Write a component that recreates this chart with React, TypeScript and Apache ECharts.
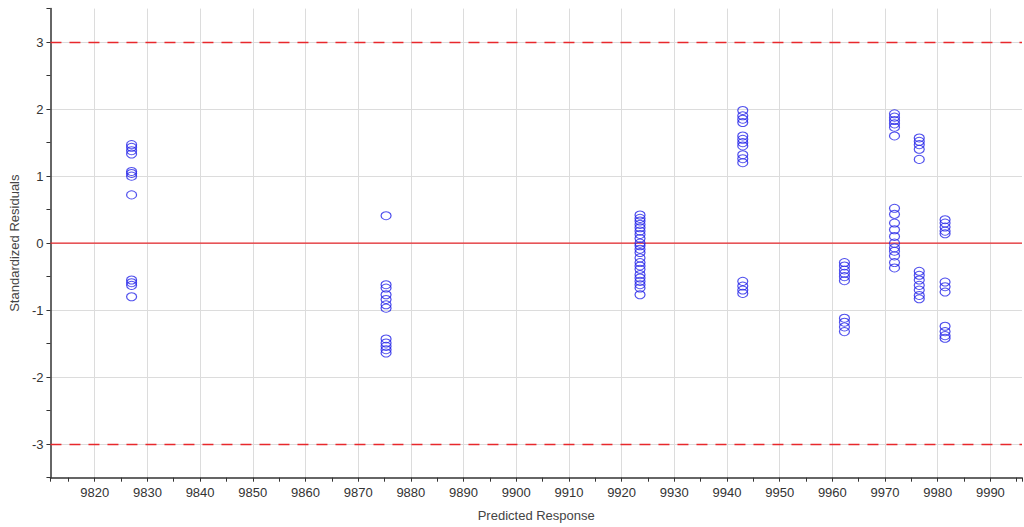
import React, { useEffect, useRef } from "react";
import * as echarts from "echarts";

// Predicted response (x) of each vertical group of runs
const predicted: number[] = [9827.0, 9875.3, 9923.5, 9943.0, 9962.3, 9971.8, 9976.5, 9981.4];

// Standardized residuals of each group
const group1: number[] = [1.47, 1.43, 1.38, 1.33, 1.07, 1.04, 1.0, 0.72, -0.55, -0.59, -0.63, -0.8];
const group2: number[] = [0.41, -0.62, -0.67, -0.77, -0.84, -0.92, -0.97, -1.43, -1.49, -1.54, -1.59, -1.64];
const group3: number[] = [0.42, 0.37, 0.33, 0.28, 0.23, 0.18, 0.13, 0.07, 0.0, -0.04, -0.09, -0.14, -0.22, -0.29, -0.34, -0.39, -0.47, -0.52, -0.57, -0.62, -0.67, -0.77];
const group4: number[] = [1.98, 1.9, 1.85, 1.8, 1.6, 1.55, 1.5, 1.45, 1.32, 1.26, 1.2, -0.57, -0.64, -0.7, -0.75];
const group5: number[] = [-0.29, -0.34, -0.4, -0.45, -0.5, -0.56, -1.12, -1.18, -1.25, -1.32];
const group6: number[] = [1.93, 1.88, 1.83, 1.78, 1.73, 1.6, 0.52, 0.43, 0.3, 0.2, 0.1, 0.0, -0.07, -0.12, -0.19, -0.29, -0.37];
const group7: number[] = [1.57, 1.52, 1.47, 1.4, 1.25, -0.42, -0.48, -0.55, -0.63, -0.7, -0.78, -0.83];
const group8: number[] = [0.35, 0.3, 0.24, 0.18, 0.14, -0.58, -0.65, -0.73, -1.24, -1.32, -1.38, -1.42];

const residualGroups: number[][] = [group1, group2, group3, group4, group5, group6, group7, group8];

// Reference lines
const limitLines: number[] = [3, -3];
const zeroLine = 0;

const X_MIN = 9811.6;
const X_MAX = 9996;

const FONT = "'Liberation Sans', Arial, sans-serif";

export default function App() {
  const ref = useRef<HTMLDivElement>(null);

  useEffect(() => {
    if (!ref.current) return;
    const chart = echarts.init(ref.current, undefined, { renderer: "svg" });

    const points: number[][] = [];
    residualGroups.forEach((g, i) => {
      g.forEach((r) => points.push([predicted[i], r]));
    });

    const red = "#e8282c";

    chart.setOption({
      animation: false,
      backgroundColor: "#ffffff",
      grid: { left: 50, right: 2, top: 8.6, bottom: 49.3, containLabel: false },
      xAxis: {
        type: "value",
        min: X_MIN,
        max: X_MAX,
        splitNumber: 18,
        name: "Predicted Response",
        nameLocation: "middle",
        nameGap: 31,
        nameTextStyle: { fontFamily: FONT, fontSize: 13, color: "#444" },
        axisLine: { show: true, onZero: false, lineStyle: { color: "#333", width: 1.5 } },
        axisTick: { show: true, inside: false, length: 4, lineStyle: { color: "#333" } },
        minorTick: { show: true, splitNumber: 2, length: 4, lineStyle: { color: "#333" } },
        axisLabel: {
          showMinLabel: false,
          showMaxLabel: false,
          margin: 8,
          fontFamily: FONT,
          fontSize: 13,
          color: "#333",
          formatter: (v: number) => String(Math.round(v)),
        },
        splitLine: { show: true, showMinLine: false, showMaxLine: false, lineStyle: { color: "#dcdcdc", width: 1 } },
      },
      yAxis: {
        type: "value",
        min: -3.5,
        max: 3.5,
        splitNumber: 7,
        name: "Standardized Residuals",
        nameLocation: "middle",
        nameGap: 29,
        nameTextStyle: { fontFamily: FONT, fontSize: 13, color: "#444" },
        axisLine: { show: true, onZero: false, lineStyle: { color: "#333", width: 1.5 } },
        axisTick: { show: true, inside: false, length: 4, lineStyle: { color: "#333" } },
        minorTick: { show: true, splitNumber: 2, length: 4, lineStyle: { color: "#333" } },
        axisLabel: {
          showMinLabel: false,
          showMaxLabel: false,
          margin: 7,
          fontFamily: FONT,
          fontSize: 13,
          color: "#333",
        },
        splitLine: { show: true, showMinLine: false, showMaxLine: false, lineStyle: { color: "#dcdcdc", width: 1 } },
      },
      series: [
        {
          type: "line",
          data: [
            [X_MIN, zeroLine],
            [X_MAX, zeroLine],
          ],
          showSymbol: false,
          symbol: "none",
          silent: true,
          lineStyle: { color: red, width: 1.2, type: "solid" },
          z: 3,
        },
        {
          type: "scatter",
          data: points,
          symbol: "circle",
          symbolSize: [10, 8],
          itemStyle: { color: "rgba(0,0,0,0)", borderColor: "#2424e8", borderWidth: 1.1 },
          z: 5,
          markLine: {
            silent: true,
            symbol: ["none", "none"],
            label: { show: false },
            animation: false,
            lineStyle: { color: red, type: [11, 8], width: 1.3 },
            data: limitLines.map((v) => ({ yAxis: v })),
          },
        },
      ],
    });

    return () => chart.dispose();
  }, []);

  return (
    <div
      ref={ref}
      style={{ position: "absolute", left: 0, top: 0, width: 1024, height: 527, background: "#fff" }}
    />
  );
}
